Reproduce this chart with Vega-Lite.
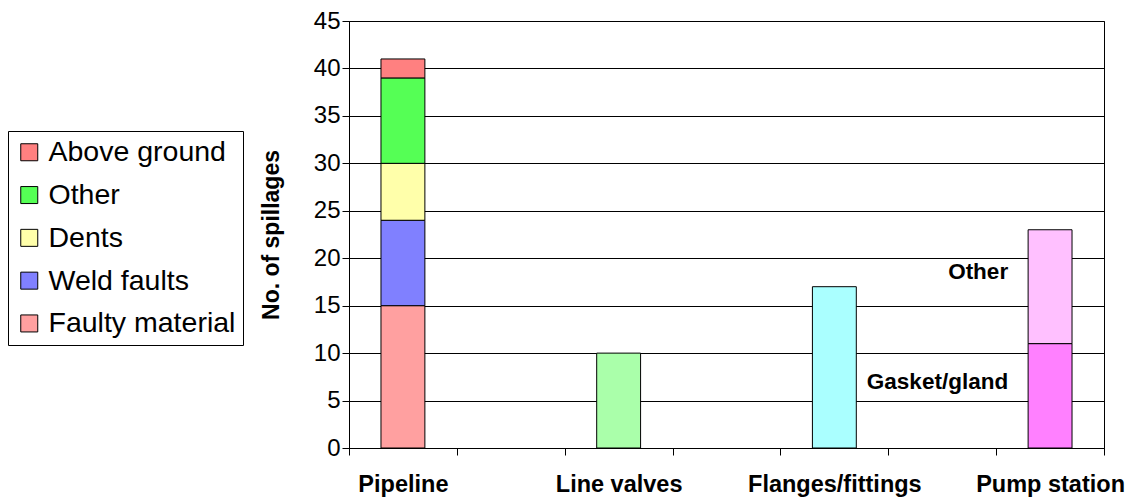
{
  "$schema": "https://vega.github.io/schema/vega-lite/v6.json",
  "autosize": {"type": "none"},
  "width": 755,
  "height": 427,
  "padding": {"left": 349, "top": 21, "right": 31, "bottom": 49},
  "background": "white",
  "config": {
    "font": "Liberation Sans",
    "view": {"stroke": "black", "strokeWidth": 1}
  },
  "layer": [
    {
      "data": {
        "values": [
          {"category": "Pipeline", "cause": "Faulty material", "count": 15, "layer": 1},
          {"category": "Pipeline", "cause": "Weld faults", "count": 9, "layer": 2},
          {"category": "Pipeline", "cause": "Dents", "count": 6, "layer": 3},
          {"category": "Pipeline", "cause": "Other", "count": 9, "layer": 4},
          {"category": "Pipeline", "cause": "Above ground", "count": 2, "layer": 5},
          {"category": "Line valves", "cause": "Line valves", "count": 10, "layer": 1},
          {"category": "Flanges/fittings", "cause": "Flanges/fittings", "count": 17, "layer": 1},
          {"category": "Pump station", "cause": "Gasket/gland", "count": 11, "layer": 1},
          {"category": "Pump station", "cause": "Other (pump station)", "count": 12, "layer": 2}
        ]
      },
      "mark": {"type": "bar", "stroke": "black", "strokeWidth": 1, "width": {"band": 0.407}},
      "encoding": {
        "x": {
          "field": "category",
          "type": "nominal",
          "sort": null,
          "scale": {
            "domain": ["Pipeline", " ", "Line valves", "  ", "Flanges/fittings", "   ", "Pump station"],
            "paddingInner": 0,
            "paddingOuter": 0
          },
          "axis": {
            "title": null,
            "labelAngle": 0,
            "labelFontSize": 23.5,
            "labelFontWeight": "bold",
            "labelColor": "black",
            "labelPadding": 17,
            "labelBaseline": "top",
            "tickBand": "extent",
            "tickSize": 7,
            "tickColor": "black",
            "domainColor": "black",
            "grid": false
          }
        },
        "y": {
          "field": "count",
          "type": "quantitative",
          "stack": "zero",
          "scale": {"domain": [0, 45], "nice": false},
          "axis": {
            "title": "No. of spillages",
            "titleFontSize": 23,
            "titleFontWeight": "bold",
            "titleColor": "black",
            "titleAngle": -90,
            "titleBaseline": "bottom",
            "titleX": -66,
            "values": [0, 5, 10, 15, 20, 25, 30, 35, 40, 45],
            "labelFontSize": 24,
            "labelColor": "black",
            "labelPadding": 2,
            "tickSize": 7,
            "tickColor": "black",
            "domainColor": "black",
            "grid": true,
            "gridColor": "black",
            "gridOpacity": 1
          }
        },
        "color": {
          "field": "cause",
          "type": "nominal",
          "scale": {
            "domain": ["Above ground", "Other", "Dents", "Weld faults", "Faulty material", "Line valves", "Flanges/fittings", "Gasket/gland", "Other (pump station)"],
            "range": ["#FF8080", "#55FF55", "#FFFFAA", "#8080FF", "#FFA0A0", "#AAFFAA", "#AAFFFF", "#FF80FF", "#FFC0FF"]
          },
          "legend": {
            "title": null,
            "values": ["Above ground", "Other", "Dents", "Weld faults", "Faulty material"],
            "orient": "none",
            "legendX": -341,
            "legendY": 110,
            "padding": 7,
            "strokeColor": "black",
            "fillColor": "white",
            "symbolType": "square",
            "symbolSize": 289,
            "symbolStrokeColor": "black",
            "symbolStrokeWidth": 1,
            "labelFontSize": 28.5,
            "labelColor": "black",
            "labelOffset": 5,
            "rowPadding": 13.8,
            "labelLimit": 400
          }
        },
        "order": {"field": "layer", "type": "quantitative"}
      }
    },
    {
      "data": {
        "values": [
          {"category": "Pump station", "label": "Other", "value": 18.6},
          {"category": "Pump station", "label": "Gasket/gland", "value": 7}
        ]
      },
      "mark": {"type": "text", "align": "right", "baseline": "middle", "fontSize": 22.5, "fontWeight": "bold", "color": "black", "dx": 12},
      "encoding": {
        "x": {"field": "category", "type": "nominal", "bandPosition": 0},
        "y": {"field": "value", "type": "quantitative"},
        "text": {"field": "label"}
      }
    }
  ]
}
